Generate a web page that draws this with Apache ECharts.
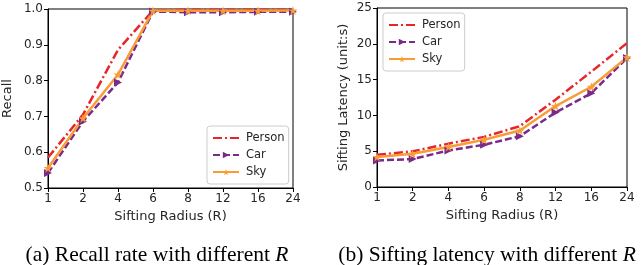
<!DOCTYPE html>
<html>
<head>
<meta charset="utf-8">
<script src="https://cdn.jsdelivr.net/npm/echarts@6/dist/echarts.min.js"></script>
<style>
  html, body { margin: 0; padding: 0; background: #fff; }
  #main { width: 644px; height: 265px; }
</style>
</head>
<body>
<div id="main"></div>
<script>
// 数据：筛选半径 R
var radius = ['1', '2', '4', '6', '8', '12', '16', '24'];
var seriesNames = ['Person', 'Car', 'Sky'];

// (a) recall
var recallPerson = [0.585, 0.705, 0.886, 0.996, 0.998, 0.998, 0.998, 0.998];
var recallCar = [0.542, 0.686, 0.795, 0.993, 0.991, 0.991, 0.992, 0.992];
var recallSky = [0.556, 0.695, 0.817, 0.995, 0.995, 0.995, 0.995, 0.996];

// (b) latency (s)
var latencyPerson = [4.5, 4.98, 6.05, 7.0, 8.5, 12.2, 16.1, 20.1];
var latencyCar = [3.7, 3.9, 5.1, 5.9, 7.1, 10.4, 13.1, 18.0];
var latencySky = [4.2, 4.65, 5.6, 6.6, 7.9, 11.3, 14.0, 18.1];

var colors = ['#e8262a', '#7b2a8a', '#f89c35'];
var starPath = 'path://M50,0 L61,35 L98,35 L68,57 L79,91 L50,70 L21,91 L32,57 L2,35 L39,35 Z';
var textColor = '#262626';

function makeSeries(name, data, idx) {
    var s = {
        name: name,
        type: 'line',
        xAxisIndex: idx,
        yAxisIndex: idx,
        data: data,
        z: 3
    };
    if (name == 'Person') {
        s.symbol = 'none';
        s.lineStyle = {color: colors[0], width: 2.5, type: [9, 3, 2, 3]};
        s.itemStyle = {color: colors[0]};
    } else if (name == 'Car') {
        s.symbol = 'triangle';
        s.symbolRotate = -90;
        s.symbolSize = 8;
        s.lineStyle = {color: colors[1], width: 2.5, type: [7, 3]};
        s.itemStyle = {color: colors[1]};
    } else {
        s.symbol = starPath;
        s.symbolSize = 9;
        s.lineStyle = {color: colors[2], width: 2.5};
        s.itemStyle = {color: colors[2]};
    }
    return s;
}

function xAxisOf(idx) {
    return {
        type: 'category',
        gridIndex: idx,
        data: radius,
        boundaryGap: false,
        axisLine: {lineStyle: {color: '#000', width: 1}},
        axisTick: {alignWithLabel: true, length: 4, lineStyle: {color: '#000'}},
        axisLabel: {color: textColor, fontSize: 12, fontFamily: 'DejaVu Sans', margin: 5},
        name: 'Sifting Radius (R)',
        nameLocation: 'middle',
        nameGap: 21,
        nameTextStyle: {color: textColor, fontSize: 13, fontFamily: 'DejaVu Sans'},
        splitLine: {show: false}
    };
}

function legendOf(left, top) {
    return {
        data: [
            {name: 'Person', itemStyle: {opacity: 0}},
            {name: 'Car'},
            {name: 'Sky'}
        ],
        orient: 'vertical',
        left: left, top: top,
        itemWidth: 26, itemHeight: 8, itemGap: 5,
        padding: [6, 4, 6, 5],
        borderColor: '#ccc', borderWidth: 1, borderRadius: 3,
        backgroundColor: '#fff',
        textStyle: {color: textColor, fontSize: 11.5, fontFamily: 'DejaVu Sans', padding: [0, 0, 0, 2]}
    };
}

var captionStyle = {
    fontFamily: 'Liberation Serif', fontSize: 21.5, fontWeight: 'normal', color: '#000',
    rich: {i: {fontFamily: 'Liberation Serif', fontStyle: 'italic', fontSize: 21.5, color: '#000'}}
};

var myChart = echarts.init(document.getElementById('main'), null, {renderer: 'canvas'});

var option = {
    animation: false,
    color: colors,
    title: [
        {text: '(a) Recall rate with different {i|R}', left: 152, top: 239, textAlign: 'center', textStyle: captionStyle},
        {text: '(b) Sifting latency with different {i|R}', left: 482, top: 239, textAlign: 'center', textStyle: captionStyle}
    ],
    legend: [legendOf(207, 126), legendOf(383, 13)],
    grid: [
        {left: 47, right: 351, top: 9, bottom: 77, show: true, borderColor: '#000', borderWidth: 1},
        {left: 377, right: 17, top: 8, bottom: 78, show: true, borderColor: '#000', borderWidth: 1}
    ],
    xAxis: [xAxisOf(0), xAxisOf(1)],
    yAxis: [
        {
            type: 'value', gridIndex: 0,
            min: 0.5, max: 1.0, interval: 0.1,
            axisLine: {show: true, lineStyle: {color: '#000'}},
            axisTick: {show: true, length: 4, lineStyle: {color: '#000'}},
            axisLabel: {color: textColor, fontSize: 12, fontFamily: 'DejaVu Sans', margin: 5,
                formatter: function (v) { return v.toFixed(1); }},
            splitLine: {show: false},
            name: 'Recall', nameLocation: 'middle', nameGap: 34,
            nameTextStyle: {color: textColor, fontSize: 13, fontFamily: 'DejaVu Sans'}
        },
        {
            type: 'value', gridIndex: 1,
            min: 0, max: 25, interval: 5,
            axisLine: {show: true, lineStyle: {color: '#000'}},
            axisTick: {show: true, length: 4, lineStyle: {color: '#000'}},
            axisLabel: {color: textColor, fontSize: 12, fontFamily: 'DejaVu Sans', margin: 5},
            splitLine: {show: false},
            name: 'Sifting Latency (unit:s)', nameLocation: 'middle', nameGap: 27,
            nameTextStyle: {color: textColor, fontSize: 13, fontFamily: 'DejaVu Sans'}
        }
    ],
    series: [
        makeSeries('Person', recallPerson, 0),
        makeSeries('Car', recallCar, 0),
        makeSeries('Sky', recallSky, 0),
        makeSeries('Person', latencyPerson, 1),
        makeSeries('Car', latencyCar, 1),
        makeSeries('Sky', latencySky, 1)
    ]
};

myChart.setOption(option);
</script>
</body>
</html>
